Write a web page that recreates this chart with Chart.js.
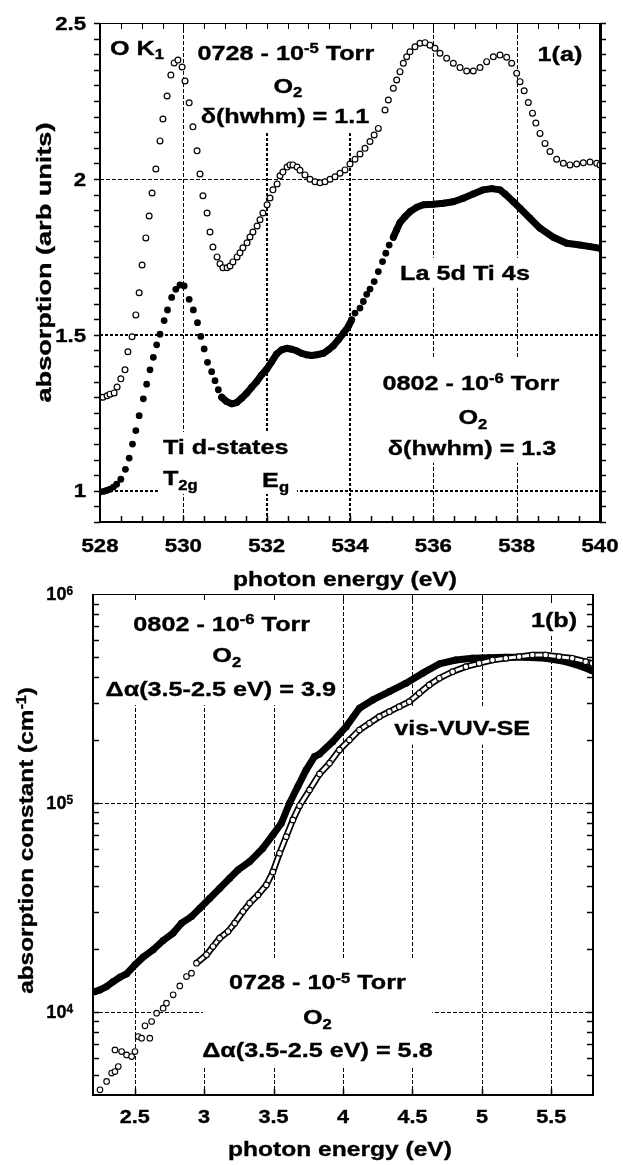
<!DOCTYPE html>
<html>
<head>
<meta charset="utf-8">
<script src="https://cdn.jsdelivr.net/npm/chart.js@4.4.0/dist/chart.umd.min.js"></script>
<style>
  body { margin: 0; background: #fff; width: 623px; height: 1165px; overflow: hidden; position: relative; }
  canvas { position: absolute; left: 0; }
  #xas { top: 0; }
  #se { top: 580px; }
</style>
</head>
<body>
<canvas id="xas" width="623" height="600"></canvas>
<canvas id="se" width="623" height="585"></canvas>
<script>
// ---------- panel 1(a): O K-edge absorption ----------
const xasTickEnergies = [528, 530, 532, 534, 536, 538, 540];
const xasTickAbs = [1, 1.5, 2, 2.5];

// 0728 - 1e-5 Torr (open circles) [eV, arb units]
const xas0728 = [
  [528.00,1.300],[528.07,1.300],[528.17,1.305],[528.24,1.310],[528.34,1.314],[528.41,1.333],[528.50,1.359],
  [528.60,1.388],[528.67,1.446],[528.77,1.494],[528.86,1.564],[528.94,1.635],[529.01,1.724],[529.10,1.811],
  [529.18,1.881],[529.25,1.955],[529.34,2.032],[529.44,2.122],[529.51,2.192],[529.61,2.266],[529.70,2.333],
  [529.78,2.372],[529.87,2.381],[529.97,2.359],[530.04,2.314],[530.14,2.244],[530.23,2.167],[530.33,2.090],
  [530.40,2.016],[530.47,1.946],[530.57,1.891],[530.64,1.830],[530.71,1.782],[530.81,1.750],[530.88,1.728],
  [530.95,1.715],[531.05,1.715],[531.12,1.721],[531.19,1.734],[531.29,1.750],[531.36,1.763],[531.43,1.779],
  [531.53,1.795],[531.60,1.814],[531.67,1.830],[531.77,1.849],[531.84,1.869],[531.91,1.891],[532.01,1.917],
  [532.08,1.939],[532.15,1.965],[532.25,1.984],[532.32,2.010],[532.39,2.022],[532.49,2.038],[532.56,2.045],
  [532.63,2.045],[532.73,2.038],[532.80,2.028],[532.92,2.013],[533.04,1.999],[533.16,1.991],[533.28,1.988],
  [533.40,1.991],[533.52,1.999],[533.64,2.007],[533.76,2.018],[533.88,2.029],[534.00,2.048],[534.12,2.063],
  [534.24,2.080],[534.36,2.098],[534.48,2.120],[534.58,2.141],[534.68,2.162],[534.84,2.221],[534.92,2.253],
  [535.04,2.291],[535.12,2.317],[535.20,2.344],[535.28,2.371],[535.36,2.392],[535.44,2.408],[535.56,2.424],
  [535.68,2.435],[535.80,2.437],[535.92,2.429],[536.04,2.419],[536.16,2.403],[536.32,2.387],[536.48,2.371],
  [536.64,2.357],[536.80,2.346],[536.96,2.346],[537.12,2.357],[537.28,2.376],[537.44,2.392],[537.60,2.397],
  [537.76,2.390],[537.88,2.371],[538.00,2.339],[538.08,2.312],[538.18,2.283],[538.28,2.245],[538.38,2.211],
  [538.46,2.179],[538.56,2.146],[538.68,2.114],[538.80,2.088],[538.96,2.063],[539.12,2.050],[539.28,2.045],
  [539.44,2.048],[539.60,2.052],[539.76,2.054],[539.92,2.050],[540.00,2.045]
];

// 0802 - 1e-6 Torr (filled circles)
const xas0802 = [
  [528.00,0.996],[528.08,0.998],[528.16,1.001],[528.24,1.005],[528.32,1.012],[528.40,1.021],[528.50,1.037],
  [528.61,1.069],[528.70,1.105],[528.78,1.150],[528.86,1.193],[528.94,1.241],[529.04,1.295],[529.12,1.342],
  [529.20,1.388],[529.28,1.428],[529.36,1.468],[529.44,1.502],[529.54,1.546],[529.62,1.580],[529.72,1.620],
  [529.82,1.646],[529.92,1.660],[530.02,1.657],[530.14,1.614],[530.24,1.580],[530.34,1.539],[530.42,1.495],
  [530.50,1.455],[530.58,1.412],[530.68,1.382],[530.76,1.353],[530.84,1.324],[530.92,1.300],[531.04,1.286],
  [531.16,1.279],[531.28,1.283],[531.40,1.297],[531.52,1.313],[531.64,1.332],[531.76,1.350],[531.88,1.372],
  [532.00,1.390],[532.12,1.414],[532.24,1.439],[532.36,1.452],[532.48,1.457],[532.60,1.454],[532.72,1.449],
  [532.84,1.441],[532.96,1.436],[533.08,1.434],[533.20,1.436],[533.36,1.441],[533.48,1.452],[533.60,1.465],
  [533.72,1.484],[533.84,1.505],[533.96,1.527],[534.04,1.548],[534.12,1.570],[534.24,1.586],[534.32,1.607],
  [534.40,1.630],[534.48,1.647],[534.58,1.671],[534.68,1.703],[534.78,1.735],[534.86,1.762],[534.94,1.788],
  [535.04,1.813],[535.12,1.837],[535.20,1.860],[535.32,1.879],[535.44,1.895],[535.60,1.909],[535.76,1.917],
  [536.00,1.919],[536.24,1.922],[536.48,1.927],[536.72,1.938],[536.96,1.952],[537.20,1.965],[537.40,1.969],
  [537.60,1.965],[537.72,1.952],[537.92,1.927],[538.08,1.906],[538.32,1.874],[538.56,1.842],[538.88,1.813],
  [539.20,1.794],[539.52,1.788],[539.76,1.783],[540.00,1.778]
];

// ---------- panel 1(b): vis-VUV-SE absorption constant ----------
const seTickEnergies = [2.5, 3, 3.5, 4, 4.5, 5, 5.5];
const seTickDecades = [4, 5, 6];

// 0802 - 1e-6 Torr (filled) [eV, cm^-1]
const se0802 = [
  [2.214,12500],[2.250,12740],[2.298,13220],[2.346,13960],[2.394,14650],[2.442,15200],[2.502,16790],
  [2.561,18280],[2.633,19820],[2.705,21950],[2.777,23820],[2.837,26570],[2.909,28570],[2.969,31340],
  [3.041,34990],[3.113,39060],[3.184,43610],[3.244,47780],[3.328,52370],[3.423,60700],[3.495,70270],
  [3.556,79960],[3.615,99700],[3.675,119800],[3.735,143900],[3.795,166700],[3.831,171400],[3.926,196500],
  [4.023,231800],[4.118,283800],[4.214,311100],[4.334,341100],[4.454,374200],[4.573,417900],[4.693,462600],
  [4.813,483300],[4.932,492300],[5.052,495500],[5.172,497700],[5.316,497700],[5.459,492300],[5.603,474500],
  [5.722,448900],[5.794,429500]
];

// 0728 - 1e-5 Torr (open)
const se0728 = [
  [2.250,4236],[2.298,4644],[2.334,5093],[2.358,5180],[2.382,5474],[2.358,6576],[2.406,6455],[2.442,6224],
  [2.478,6110],[2.502,6455],[2.525,7620],[2.550,7484],[2.574,8570],[2.609,7484],[2.622,8990],[2.658,9860],
  [2.705,10420],[2.729,11010],[2.777,12060],[2.825,13310],[2.873,14750],[2.909,15310],[2.945,17100],
  [3.017,18740],[3.064,20530],[3.112,22530],[3.172,24230],[3.220,26570],[3.280,30190],[3.328,33110],
  [3.388,36290],[3.448,40520],[3.495,46770],[3.543,57410],[3.591,68960],[3.639,82960],[3.687,96840],
  [3.759,115400],[3.831,137600],[3.903,154900],[3.974,179400],[4.046,200100],[4.118,223400],[4.190,240500],
  [4.262,258700],[4.334,273400],[4.405,288900],[4.477,305300],[4.549,334900],[4.621,367100],[4.693,395200],
  [4.789,425000],[4.885,449000],[4.980,465600],[5.076,483100],[5.172,492300],[5.268,501300],[5.363,510400],
  [5.459,510400],[5.555,501300],[5.650,492300],[5.747,474500],[5.794,465600]
];

const FONT = '"Liberation Sans", Arial, Helvetica, sans-serif';

function toPts(arr) {
  return arr.map(p => ({ x: p[0], y: p[1] }));
}

// text with sub/superscript runs, stretched along its direction
function drawRich(ctx, parts, x, y, size, sx, align, rot) {
  ctx.save();
  ctx.translate(x, y);
  if (rot) ctx.rotate(rot);
  ctx.scale(sx, 1);
  ctx.fillStyle = '#000';
  ctx.strokeStyle = '#000';
  ctx.lineWidth = 0.35;
  ctx.textAlign = 'left';
  ctx.textBaseline = 'alphabetic';
  const runs = parts.map(([t, k]) => {
    const fs = k ? size * 0.66 : size;
    ctx.font = 'bold ' + fs + 'px ' + FONT;
    return { t, k, fs, w: ctx.measureText(t).width };
  });
  const total = runs.reduce((s, r) => s + r.w, 0);
  let cx = align === 'left' ? 0 : align === 'right' ? -total : -total / 2;
  const base = size * 0.36;
  runs.forEach(r => {
    ctx.font = 'bold ' + r.fs + 'px ' + FONT;
    const dy = r.k === 'sup' ? -size * 0.32 : r.k === 'sub' ? size * 0.22 : 0;
    ctx.fillText(r.t, cx, base + dy);
    ctx.strokeText(r.t, cx, base + dy);
    cx += r.w;
  });
  ctx.restore();
}

function snap(v, w) {
  return Math.round(v) + (w % 2 ? 0.5 : 0);
}

function seg(ctx, x1, y1, x2, y2, w, dash) {
  ctx.save();
  ctx.strokeStyle = '#000';
  ctx.lineWidth = w;
  ctx.setLineDash(dash || []);
  ctx.beginPath();
  if (x1 === x2) { x1 = x2 = snap(x1, w); }
  if (y1 === y2) { y1 = y2 = snap(y1, w); }
  ctx.moveTo(x1, y1);
  ctx.lineTo(x2, y2);
  ctx.stroke();
  ctx.restore();
}

// grid, label masks, notes, frame, ticks, tick labels and titles of one panel
function panelPlugin(p) {
  return {
    id: 'panel',
    beforeDatasetsDraw(chart) {
      const { ctx, chartArea: a, scales: { x, y } } = chart;
      ctx.save();
      ctx.beginPath();
      ctx.rect(a.left, a.top, a.right - a.left, a.bottom - a.top);
      ctx.clip();
      p.xGrid.forEach(v => {
        const heavy = p.heavyX.includes(v);
        const px = x.getPixelForValue(v);
        seg(ctx, px, a.top, px, a.bottom, heavy ? 2 : 1, heavy ? [3, 2] : [4, 2]);
      });
      p.yGrid.forEach(v => {
        const heavy = p.heavyY.includes(v);
        const py = y.getPixelForValue(v);
        seg(ctx, a.left, py, a.right, py, heavy ? 2 : 1, heavy ? [3, 2] : [4, 2]);
      });
      ctx.fillStyle = '#fff';
      p.masks.forEach(m => {
        const x0 = x.getPixelForValue(m[0]), x1 = x.getPixelForValue(m[1]);
        const y0 = y.getPixelForValue(m[2]), y1 = y.getPixelForValue(m[3]);
        ctx.fillRect(Math.min(x0, x1), Math.min(y0, y1), Math.abs(x1 - x0), Math.abs(y1 - y0));
      });
      ctx.restore();
      p.notes.forEach(n => {
        drawRich(ctx, n.parts, x.getPixelForValue(n.x), y.getPixelForValue(n.y), 21, 1.2, n.align || 'center', 0);
      });
    },
    afterDraw(chart) {
      const { ctx, chartArea: a, scales: { x, y } } = chart;
      // ticks
      p.xMinor.forEach(v => {
        const px = x.getPixelForValue(v);
        seg(ctx, px, a.bottom, px, a.bottom - 6, 1.5);
        seg(ctx, px, a.top, px, a.top + 6, 1);
      });
      const d = p.yTicksOut ? -1 : 1;
      p.yMinor.forEach(v => {
        const py = y.getPixelForValue(v);
        seg(ctx, a.left, py, a.left + d * 6, py, 1.5);
        seg(ctx, a.right, py, a.right - d * 6, py, 1.5);
      });
      // frame
      seg(ctx, a.left, a.top, a.left, a.bottom + 1, p.frame[0]);
      seg(ctx, a.left, a.bottom, a.right + 1, a.bottom, p.frame[1]);
      seg(ctx, a.right, a.top, a.right, a.bottom + 1, p.frame[2]);
      seg(ctx, a.left, a.top, a.right, a.top, p.frame[3]);
      // tick labels
      p.xLabels.forEach(v => {
        drawRich(ctx, [[String(v), '']], x.getPixelForValue(v), a.bottom + p.xLabelGap, p.tickSize, 1.2, 'center', 0);
      });
      p.yLabels.forEach(l => {
        drawRich(ctx, l.parts, a.left - p.yLabelGap, y.getPixelForValue(l.v), p.tickSize, p.yLabelSx, 'right', 0);
      });
      // axis titles
      const cx = (a.left + a.right) / 2;
      const cy = (a.top + a.bottom) / 2;
      drawRich(ctx, p.xTitle, cx + p.xTitleDx, a.bottom + p.xTitleGap, 21, 1.17, 'center', 0);
      drawRich(ctx, p.yTitle, p.yTitleX, cy + p.yTitleDy, 21, p.yTitleSx, 'center', -Math.PI / 2);
    }
  };
}

function stepTicks(from, to, step) {
  const out = [];
  const n = Math.round((to - from) / step);
  for (let i = 0; i <= n; i++) out.push(+(from + i * step).toFixed(4));
  return out;
}

function logMinorTicks(min, max) {
  const out = [];
  for (let e = Math.floor(Math.log10(min)); e <= Math.ceil(Math.log10(max)); e++) {
    for (let m = 1; m <= 9; m++) {
      const v = m * Math.pow(10, e);
      if (v > min && v < max) out.push(v);
    }
  }
  return out;
}

const baseOptions = {
  responsive: false,
  animation: false,
  devicePixelRatio: 1,
  events: [],
  plugins: { legend: { display: false }, tooltip: { enabled: false } }
};

function hidden(extra) {
  return Object.assign({
    grid: { display: false },
    border: { display: false },
    ticks: { display: false }
  }, extra);
}

// ---- top panel ----
new Chart(document.getElementById('xas'), {
  type: 'scatter',
  data: {
    datasets: [
      {
        data: toPts(xas0802),
        order: 1,
        showLine: true,
        borderColor: '#000',
        borderWidth: 7,
        borderCapStyle: 'round',
        borderJoinStyle: 'round',
        segment: {
          borderColor: c => {
            const a = c.p0.parsed.x, b = c.p1.parsed.x;
            const dense = (a >= 530.9 && b <= 534.05) || (a >= 535.0);
            return dense ? '#000' : 'rgba(0,0,0,0)';
          }
        },
        pointRadius: 3.4,
        pointBackgroundColor: '#000',
        pointBorderWidth: 0
      },
      {
        data: toPts(xas0728),
        order: 2,
        showLine: false,
        pointRadius: 2.9,
        pointBackgroundColor: '#fff',
        pointBorderColor: '#000',
        pointBorderWidth: 1.2
      }
    ]
  },
  options: Object.assign({}, baseOptions, {
    layout: { padding: { top: 23, right: 23, left: 0, bottom: 0 } },
    scales: {
      x: hidden({ type: 'linear', min: 528, max: 540, afterFit: s => { s.height = 78; } }),
      y: hidden({ type: 'linear', min: 0.9, max: 2.5, afterFit: s => { s.width = 100; } })
    }
  }),
  plugins: [panelPlugin({
    xGrid: xasTickEnergies.slice(1, -1),
    yGrid: xasTickAbs.slice(0, -1),
    heavyX: [532, 534],
    heavyY: [1, 1.5],
    masks: [
      [530.16, 534.72, 2.5, 2.147],
      [535.08, 538.44, 1.747, 1.651],
      [534.72, 539.16, 1.426, 1.090],
      [529.39, 532.73, 1.189, 0.990]
    ],
    notes: [
      { parts: [['O K', ''], ['1', 'sub']], x: 528.24, y: 2.423, align: 'left' },
      { parts: [['0728 - 10', ''], ['-5', 'sup'], [' Torr', '']], x: 532.46, y: 2.407 },
      { parts: [['O', ''], ['2', 'sub']], x: 532.51, y: 2.301 },
      { parts: [['\u03b4(hwhm) = 1.1', '']], x: 532.44, y: 2.205 },
      { parts: [['1(a)', '']], x: 539.04, y: 2.404 },
      { parts: [['La 5d Ti 4s', '']], x: 536.76, y: 1.699 },
      { parts: [['0802 - 10', ''], ['-6', 'sup'], [' Torr', '']], x: 536.90, y: 1.349 },
      { parts: [['O', ''], ['2', 'sub']], x: 536.95, y: 1.237 },
      { parts: [['\u03b4(hwhm) = 1.3', '']], x: 536.93, y: 1.138 },
      { parts: [['Ti d-states', '']], x: 529.51, y: 1.141, align: 'left' },
      { parts: [['T', ''], ['2g', 'sub']], x: 529.51, y: 1.042, align: 'left' },
      { parts: [['E', ''], ['g', 'sub']], x: 531.89, y: 1.035, align: 'left' }
    ],
    xMinor: stepTicks(528.5, 539.5, 0.5),
    yMinor: stepTicks(0.9, 2.5, 0.05),
    yTicksOut: true,
    frame: [2, 2, 3, 1],
    tickSize: 18.5,
    xLabels: xasTickEnergies,
    xLabelGap: 23,
    yLabels: xasTickAbs.map(v => ({ v, parts: [[String(v), '']] })),
    yLabelGap: 14,
    yLabelSx: 1.2,
    xTitle: [['photon energy (eV)', '']],
    xTitleDx: -5,
    xTitleGap: 56,
    yTitle: [['absorption (arb units)', '']],
    yTitleX: 43,
    yTitleDy: -10,
    yTitleSx: 1.29
  })]
});

// ---- bottom panel ----
new Chart(document.getElementById('se'), {
  type: 'scatter',
  data: {
    datasets: [
      {
        data: toPts(se0802),
        order: 5,
        showLine: true,
        borderColor: '#000',
        borderWidth: 7,
        borderCapStyle: 'round',
        borderJoinStyle: 'round',
        pointRadius: 3.5,
        pointBackgroundColor: '#000',
        pointBorderWidth: 0
      },
      {
        data: toPts(se0728),
        order: 4,
        showLine: true,
        borderColor: '#000',
        borderWidth: 6.5,
        segment: { borderColor: c => c.p0.parsed.x >= 2.94 ? '#000' : 'rgba(0,0,0,0)' },
        pointRadius: 0
      },
      {
        data: toPts(se0728),
        order: 3,
        showLine: true,
        borderColor: '#fff',
        borderWidth: 3,
        segment: { borderColor: c => c.p0.parsed.x >= 2.94 ? '#fff' : 'rgba(0,0,0,0)' },
        pointRadius: 0
      },
      {
        data: toPts(se0728),
        order: 2,
        showLine: false,
        pointRadius: 2.8,
        pointBackgroundColor: '#fff',
        pointBorderColor: '#000',
        pointBorderWidth: 1.1
      }
    ]
  },
  options: Object.assign({}, baseOptions, {
    layout: { padding: { top: 14, right: 30, left: 0, bottom: 0 } },
    scales: {
      x: hidden({ type: 'linear', min: 2.2, max: 5.8, afterFit: s => { s.height = 70; } }),
      y: hidden({ type: 'logarithmic', min: 4000, max: 1e6, afterFit: s => { s.width = 93; } })
    }
  }),
  plugins: [panelPlugin({
    xGrid: seTickEnergies,
    yGrid: seTickDecades.slice(0, -1).map(e => Math.pow(10, e)),
    heavyX: [],
    heavyY: [],
    masks: [
      [2.308, 3.960, 1e6, 2.94e5],
      [5.339, 5.699, 9.06e5, 6.37e5],
      [4.355, 5.375, 2.85e5, 1.90e5],
      [2.990, 4.643, 1.81e4, 5.52e3]
    ],
    notes: [
      { parts: [['0802 - 10', ''], ['-6', 'sup'], [' Torr', '']], x: 3.127, y: 7.26e5 },
      { parts: [['O', ''], ['2', 'sub']], x: 3.163, y: 5.11e5 },
      { parts: [['\u0394\u03b1(3.5-2.5 eV) = 3.9', '']], x: 3.120, y: 3.55e5 },
      { parts: [['1(b)', '']], x: 5.519, y: 7.52e5 },
      { parts: [['vis-VUV-SE', '']], x: 4.858, y: 2.31e5 },
      { parts: [['0728 - 10', ''], ['-5', 'sup'], [' Torr', '']], x: 3.816, y: 1.392e4 },
      { parts: [['O', ''], ['2', 'sub']], x: 3.816, y: 9.46e3 },
      { parts: [['\u0394\u03b1(3.5-2.5 eV) = 5.8', '']], x: 3.816, y: 6.58e3 }
    ],
    xMinor: seTickEnergies,
    yMinor: logMinorTicks(4000, 1e6),
    yTicksOut: false,
    frame: [2, 2, 2, 1],
    tickSize: 18,
    xLabels: seTickEnergies,
    xLabelGap: 22,
    yLabels: seTickDecades.map(e => ({ v: Math.pow(10, e), parts: [['10', ''], [String(e), 'sup']] })),
    yLabelGap: 20,
    yLabelSx: 1.0,
    xTitle: [['photon energy (eV)', '']],
    xTitleDx: -3,
    xTitleGap: 53,
    yTitle: [['absorption constant (cm', ''], ['-1', 'sup'], [')', '']],
    yTitleX: 25,
    yTitleDy: -4,
    yTitleSx: 1.16
  })]
});
</script>
</body>
</html>
